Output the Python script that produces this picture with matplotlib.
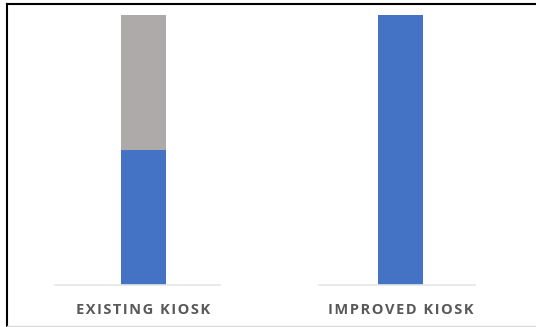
import matplotlib
matplotlib.use("Agg")
import matplotlib.pyplot as plt
from matplotlib.lines import Line2D

categories = ["EXISTING KIOSK", "IMPROVED KIOSK"]
blue_values = [50, 100]
gray_values = [50, 0]

BLUE = "#4472C4"
GRAY = "#AEAAAA"
W, H = 536, 327
fig = plt.figure(figsize=(W / 100, H / 100), dpi=100)

# axes geometry in pixels: (left, right, bar center)
geoms = [(55, 220, 143.5), (319, 475, 400.5)]
bottom_px, top_px = 285, 15
bar_w = 45


def spaced(s):
    return "\u200a".join(s)


for i, (l, r, c) in enumerate(geoms):
    ax = fig.add_axes([l / W, (H - bottom_px) / H, (r - l) / W, (bottom_px - top_px) / H])
    ax.bar([0], [blue_values[i]], width=bar_w, color=BLUE, zorder=2)
    if gray_values[i] > 0:
        ax.bar([0], [gray_values[i]], bottom=[blue_values[i]], width=bar_w, color=GRAY, zorder=2)
    ax.set_xlim(-(c - l), r - c)
    ax.set_ylim(0, 100)
    for s in ["top", "left", "right"]:
        ax.spines[s].set_visible(False)
    ax.spines["bottom"].set_color("#E6E6E6")
    ax.spines["bottom"].set_linewidth(1.2)
    ax.set_yticks([])
    ax.set_xticks([0])
    ax.set_xticklabels([spaced(categories[i])], family=["Open Sans", "DejaVu Sans"],
                       fontweight="bold", fontsize=10.5, color="#595959")
    ax.tick_params(axis="x", length=0, pad=13)
    ax.patch.set_alpha(0)

# frame lines
fig.add_artist(Line2D([7 / W, 1], [1 - 4 / H, 1 - 4 / H], color="black", lw=1.5, transform=fig.transFigure))
fig.add_artist(Line2D([7 / W, 7 / W], [1 - 4 / H, 1 - 326 / H], color="black", lw=1.5, transform=fig.transFigure))
fig.add_artist(Line2D([7 / W, 1], [1 - 326 / H, 1 - 326 / H], color="#D9D9D9", lw=1, transform=fig.transFigure))

fig.savefig("out.png", dpi=100)
